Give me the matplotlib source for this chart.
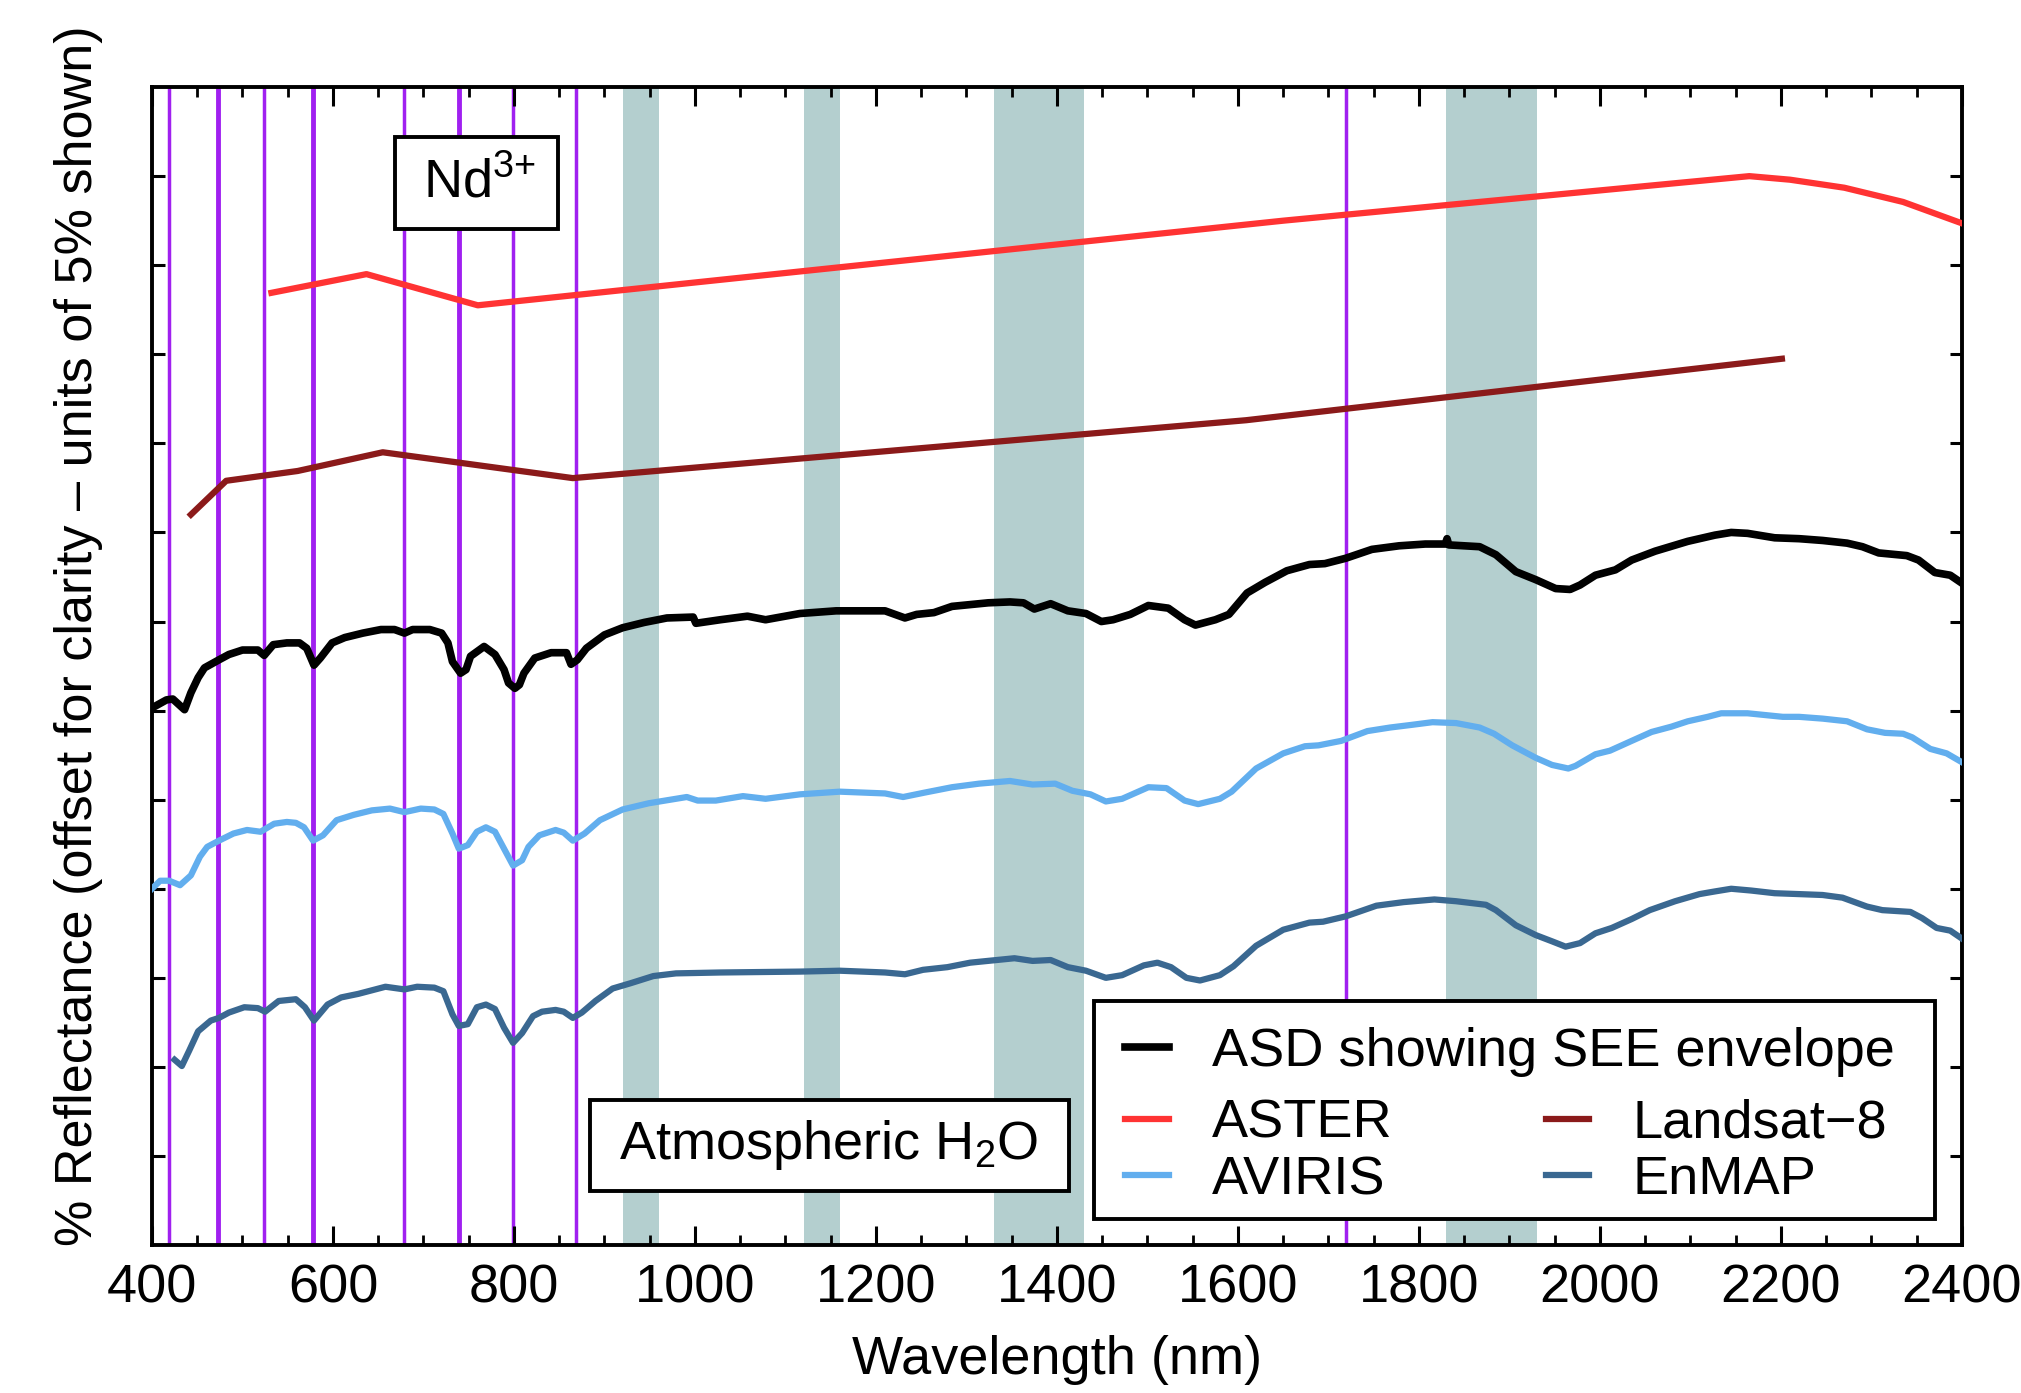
import matplotlib
matplotlib.use("Agg")
import matplotlib.pyplot as plt
from matplotlib.patches import Rectangle
from matplotlib.ticker import MultipleLocator

# ---------------- data ----------------
asd_wl = [400, 416, 423, 436, 443, 451, 458, 474, 485, 500, 517, 524, 534, 549, 563, 571, 579, 586, 599, 613,
          633, 653, 668, 679, 688, 707, 720, 727, 732, 741, 747, 752, 767, 779, 789, 794, 801, 806, 811, 823,
          841, 858, 863, 870, 880, 900, 920, 944, 969, 998, 1001, 1028, 1058, 1078, 1116, 1156, 1210, 1232,
          1245, 1264, 1284, 1324, 1348, 1363, 1375, 1393, 1412, 1432, 1449, 1462, 1481, 1501, 1523, 1541,
          1553, 1575, 1590, 1610, 1630, 1654, 1679, 1696, 1719, 1748, 1778, 1807, 1829, 1831, 1833, 1867,
          1885, 1907, 1929, 1951, 1967, 1978, 1995, 2017, 2035, 2061, 2097, 2127, 2145, 2163, 2193, 2220,
          2246, 2273, 2290, 2308, 2339, 2352, 2370, 2387, 2400]
asd_r = [6.03, 6.12, 6.13, 6.01, 6.20, 6.37, 6.48, 6.57, 6.63, 6.68, 6.68, 6.62, 6.74, 6.76, 6.76, 6.70, 6.51,
         6.59, 6.76, 6.82, 6.87, 6.91, 6.91, 6.87, 6.91, 6.91, 6.87, 6.76, 6.55, 6.42, 6.46, 6.61, 6.72, 6.63,
         6.46, 6.31, 6.25, 6.29, 6.42, 6.59, 6.65, 6.65, 6.52, 6.57, 6.70, 6.85, 6.93, 6.99, 7.04, 7.05, 6.98,
         7.02, 7.06, 7.02, 7.09, 7.12, 7.12, 7.04, 7.08, 7.10, 7.17, 7.21, 7.22, 7.21, 7.14, 7.20, 7.12, 7.09,
         7.00, 7.02, 7.08, 7.18, 7.15, 7.02, 6.96, 7.02, 7.08, 7.32, 7.44, 7.57, 7.64, 7.65, 7.71, 7.81, 7.85,
         7.87, 7.87, 7.93, 7.86, 7.84, 7.75, 7.56, 7.47, 7.37, 7.36, 7.41, 7.52, 7.58, 7.69, 7.79, 7.90, 7.97,
         8.00, 7.99, 7.94, 7.93, 7.91, 7.88, 7.84, 7.77, 7.74, 7.69, 7.55, 7.52, 7.43]

aviris_wl = [400, 409, 419, 431, 443, 453, 461, 474, 490, 505, 520, 535, 549, 559, 568, 578, 589, 604, 623, 643,
             663, 679, 697, 712, 722, 732, 739, 749, 759, 769, 779, 789, 799, 809, 816, 828, 846, 855, 865, 878,
             895, 920, 949, 979, 991, 1003, 1023, 1053, 1078, 1116, 1160, 1210, 1230, 1254, 1284, 1314, 1348,
             1373, 1398, 1417, 1437, 1454, 1472, 1501, 1521, 1541, 1556, 1580, 1593, 1620, 1650, 1674, 1689,
             1714, 1743, 1768, 1792, 1815, 1841, 1867, 1883, 1903, 1929, 1947, 1965, 1973, 1995, 2011, 2035,
             2057, 2079, 2097, 2119, 2134, 2163, 2202, 2220, 2246, 2273, 2295, 2315, 2335, 2345, 2365, 2383, 2400]
aviris_r = [4.00, 4.09, 4.09, 4.04, 4.15, 4.36, 4.47, 4.54, 4.62, 4.66, 4.64, 4.73, 4.75, 4.74, 4.69, 4.54, 4.60,
            4.77, 4.83, 4.88, 4.90, 4.86, 4.90, 4.89, 4.84, 4.62, 4.45, 4.49, 4.64, 4.69, 4.64, 4.45, 4.26, 4.32,
            4.47, 4.60, 4.66, 4.63, 4.54, 4.62, 4.77, 4.89, 4.96, 5.01, 5.03, 4.99, 4.99, 5.04, 5.01, 5.06, 5.09,
            5.07, 5.03, 5.08, 5.14, 5.18, 5.21, 5.17, 5.18, 5.10, 5.06, 4.98, 5.01, 5.14, 5.13, 4.99, 4.95, 5.01,
            5.09, 5.35, 5.52, 5.60, 5.61, 5.66, 5.77, 5.81, 5.84, 5.87, 5.86, 5.81, 5.74, 5.61, 5.47, 5.39, 5.35,
            5.38, 5.51, 5.55, 5.66, 5.76, 5.82, 5.88, 5.93, 5.97, 5.97, 5.93, 5.93, 5.91, 5.88, 5.79, 5.75, 5.74,
            5.70, 5.57, 5.52, 5.42]

enmap_wl = [425, 433, 441, 451, 465, 474, 485, 502, 517, 525, 540, 559, 569, 579, 594, 609, 628, 658, 679, 693,
            712, 722, 732, 739, 749, 759, 769, 779, 789, 799, 809, 821, 831, 846, 855, 865, 875, 890, 909, 929,
            954, 979, 1028, 1116, 1160, 1210, 1232, 1252, 1279, 1304, 1353, 1373, 1393, 1412, 1432, 1454, 1472,
            1496, 1511, 1526, 1543, 1558, 1580, 1595, 1620, 1650, 1679, 1694, 1719, 1753, 1783, 1817, 1841, 1874,
            1885, 1907, 1929, 1947, 1962, 1978, 1995, 2013, 2035, 2055, 2083, 2110, 2127, 2145, 2167, 2193, 2220,
            2246, 2268, 2295, 2312, 2343, 2356, 2372, 2387, 2400]
enmap_r = [2.08, 2.01, 2.18, 2.40, 2.52, 2.55, 2.61, 2.67, 2.66, 2.62, 2.74, 2.76, 2.67, 2.52, 2.70, 2.78, 2.82,
           2.90, 2.87, 2.90, 2.89, 2.85, 2.59, 2.46, 2.48, 2.67, 2.70, 2.65, 2.44, 2.27, 2.38, 2.57, 2.62, 2.64,
           2.62, 2.55, 2.61, 2.74, 2.88, 2.94, 3.02, 3.05, 3.06, 3.07, 3.08, 3.06, 3.04, 3.09, 3.12, 3.17, 3.22,
           3.19, 3.20, 3.12, 3.08, 3.00, 3.03, 3.14, 3.17, 3.12, 3.00, 2.97, 3.03, 3.13, 3.36, 3.54, 3.62, 3.63,
           3.69, 3.81, 3.85, 3.88, 3.86, 3.82, 3.76, 3.59, 3.48, 3.41, 3.35, 3.39, 3.50, 3.56, 3.66, 3.76, 3.86,
           3.94, 3.97, 4.00, 3.98, 3.95, 3.94, 3.93, 3.90, 3.80, 3.76, 3.74, 3.67, 3.56, 3.53, 3.44]

aster_wl = [532, 637, 760, 1650, 2165, 2210, 2270, 2335, 2400]
aster_r = [10.69, 10.90, 10.55, 11.50, 12.00, 11.96, 11.87, 11.71, 11.47]

landsat_wl = [443, 482, 561, 655, 865, 1609, 2201]
landsat_r = [8.20, 8.58, 8.69, 8.90, 8.61, 9.26, 9.95]

nd_lines = [419, 473, 524, 578, 679, 739, 799, 869, 1719]
nd_thick = [473, 578, 739]
water_bands = [(920, 960), (1120, 1160), (1330, 1430), (1830, 1930)]

x_ticks = list(range(400, 2401, 200))
y_ticks = list(range(1, 13))

# ---------------- style ----------------
fam = 'Liberation Sans'
plt.rcParams['font.family'] = [fam, 'DejaVu Sans']
plt.rcParams['mathtext.fontset'] = 'custom'
plt.rcParams['mathtext.rm'] = fam
plt.rcParams['mathtext.it'] = fam
plt.rcParams['mathtext.bf'] = fam
FS = 39

fig = plt.figure(figsize=(20.21, 13.93), dpi=100)
ax = fig.add_axes([0.0752, 0.1062, 0.8956, 0.8313])

for lo, hi in water_bands:
    ax.axvspan(lo, hi, color='#b4cfcf', lw=0, zorder=1)
for w in nd_lines:
    ax.axvline(w, color='#a020f0', lw=3.5 if w in nd_thick else 2.5, zorder=1.5)

l_asd, = ax.plot(asd_wl, asd_r, color='black', lw=5.5, zorder=3, label='ASD showing SEE envelope')
l_aster, = ax.plot(aster_wl, aster_r, color='#ff3333', lw=4.5, zorder=3, label='ASTER')
l_land, = ax.plot(landsat_wl, landsat_r, color='#8b1a1a', lw=4.5, zorder=3, label='Landsat\u22128')
l_av, = ax.plot(aviris_wl, aviris_r, color='#62aeee', lw=4.5, zorder=3, label='AVIRIS')
l_en, = ax.plot(enmap_wl, enmap_r, color='#3a6891', lw=4.5, zorder=3, label='EnMAP')

ax.set_xlim(400, 2400)
ax.set_ylim(0, 13)
ax.set_xticks(x_ticks)
ax.xaxis.set_minor_locator(MultipleLocator(50))
ax.set_yticks(y_ticks)
ax.set_yticklabels([])
ax.tick_params(axis='x', which='major', direction='in', top=True, length=14, width=2.2,
               labelsize=FS, pad=13)
ax.tick_params(axis='x', which='minor', direction='in', top=True, length=7, width=2)
ax.tick_params(axis='y', which='major', direction='in', right=True, length=9, width=2.2)
for s in ax.spines.values():
    s.set_linewidth(2.8)

ax.set_xlabel('Wavelength (nm)', fontsize=FS)
ax.xaxis.set_label_coords(0.5, -0.078)
ax.set_ylabel('% Reflectance (offset for clarity \u2013 units of 5% shown)', fontsize=37.5)
ax.yaxis.set_label_coords(-0.027, 0.526)

# annotation boxes
ax.add_patch(Rectangle((669, 11.41), 180, 1.03, fc='white', ec='black', lw=2.8, zorder=5))
ax.text(762, 11.93, r'Nd$^{3{+}}$', fontsize=FS, ha='center', va='center', zorder=6)
ax.add_patch(Rectangle((884, 0.607), 529, 1.025, fc='white', ec='black', lw=2.8, zorder=5))
ax.text(1148, 1.12, 'Atmospheric H$_2$O', fontsize=FS, ha='center', va='center', zorder=6)

# legend
ax.add_patch(Rectangle((0.5207, 0.0222), 0.4643, 0.1887, transform=ax.transAxes,
                       fc='white', ec='black', lw=2.8, zorder=5))
common = dict(frameon=False, borderpad=0, borderaxespad=0, handlelength=0.8, handletextpad=0.8,
              fontsize=FS, loc='center left', labelspacing=0.12)
legA = ax.legend(handles=[l_asd], bbox_to_anchor=(0.5377, 0.1665), **common)
legA.set_zorder(6)
ax.add_artist(legA)
legB = ax.legend(handles=[l_aster, l_av], bbox_to_anchor=(0.5377, 0.0805), **common)
legB.set_zorder(6)
ax.add_artist(legB)
legC = ax.legend(handles=[l_land, l_en], bbox_to_anchor=(0.770, 0.0805), **common)
legC.set_zorder(6)

fig.savefig('out.png', dpi=100)
